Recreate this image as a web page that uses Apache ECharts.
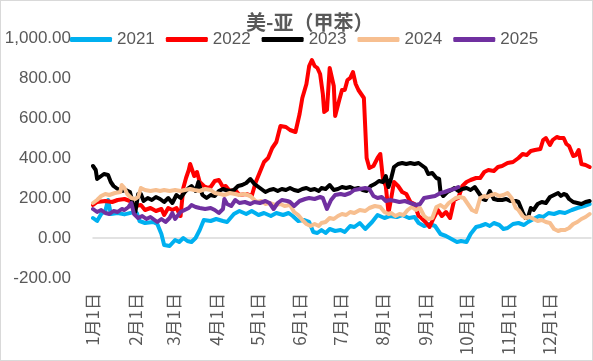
<!DOCTYPE html>
<html>
<head>
<meta charset="utf-8">
<script src="https://cdn.jsdelivr.net/npm/echarts@6/dist/echarts.min.js"></script>
<style>
html,body{margin:0;padding:0;background:#fff;}
#wrap{position:relative;width:593px;height:361px;}
#chart{position:absolute;left:0;top:0;width:593px;height:361px;}
#frame{position:absolute;left:0;top:0;width:593px;height:361px;box-sizing:border-box;border:1px solid #d9d9d9;pointer-events:none;}
</style>
</head>
<body>
<div id="wrap"><div id="chart"></div><div id="frame"></div></div>
<script>
// x = day of year (0 = 1月1日, 364 = 12月31日)
const monthStarts = [0,31,59,90,120,151,181,212,243,273,304,334];
const monthLabels = ['1月1日','2月1日','3月1日','4月1日','5月1日','6月1日','7月1日','8月1日','9月1日','10月1日','11月1日','12月1日'];
const seriesNames = ['2021','2022','2023','2024','2025'];

const s2021 = [[0,100],[3,85],[6,120],[9,135],[11,190],[13,120],[18,125],[23,118],[29,128],[32,125],[34,85],[38,75],[44,80],[47,70],[50,20],[52,-35],[56,-40],[60,-10],[63,-20],[66,0],[69,-15],[72,-20],[75,0],[78,40],[81,90],[86,85],[90,95],[95,85],[98,80],[103,120],[107,135],[112,120],[116,135],[121,115],[125,125],[130,110],[134,125],[139,115],[143,125],[146,110],[150,85],[154,90],[158,80],[161,30],[164,25],[167,40],[170,25],[173,45],[177,35],[181,40],[184,30],[188,60],[191,55],[195,75],[199,45],[204,80],[208,115],[213,100],[217,110],[222,105],[226,115],[231,100],[235,105],[238,75],[242,60],[246,70],[250,60],[254,20],[258,10],[262,-5],[266,-20],[269,-15],[273,-20],[276,20],[280,55],[283,60],[287,70],[290,60],[293,75],[297,65],[300,45],[303,50],[307,70],[311,75],[315,65],[318,80],[322,95],[326,110],[329,105],[333,125],[337,120],[341,130],[345,125],[350,140],[354,150],[359,160],[363,170]];

const s2022 = [[0,165],[3,180],[9,185],[14,180],[18,190],[23,195],[27,185],[31,160],[35,165],[38,140],[42,150],[46,135],[50,145],[52,115],[55,150],[58,140],[61,150],[64,110],[66,250],[68,300],[70,340],[71,370],[74,310],[76,330],[78,280],[81,260],[84,250],[86,255],[89,285],[92,290],[95,255],[97,260],[100,235],[104,240],[107,215],[112,220],[116,210],[119,280],[122,330],[125,380],[128,400],[131,450],[134,480],[137,560],[141,555],[144,540],[148,530],[151,620],[153,700],[156,770],[158,860],[160,890],[162,860],[164,850],[166,820],[168,720],[169,630],[171,640],[173,850],[176,760],[177,610],[180,690],[182,740],[184,740],[186,790],[188,800],[190,830],[192,770],[194,740],[196,720],[198,700],[200,400],[202,350],[205,360],[208,400],[210,420],[212,290],[214,260],[216,125],[218,200],[220,280],[223,260],[226,230],[229,220],[232,180],[235,170],[238,110],[240,100],[243,80],[246,55],[249,100],[252,140],[255,110],[258,130],[261,100],[264,190],[267,200],[270,260],[273,280],[276,290],[280,300],[283,300],[286,330],[289,340],[293,335],[296,355],[299,360],[303,375],[307,380],[311,400],[314,420],[317,415],[320,435],[323,440],[327,445],[329,490],[331,500],[334,465],[336,490],[339,505],[341,500],[344,500],[346,470],[348,460],[351,410],[353,415],[355,440],[357,370],[360,365],[363,355]];

const s2023 = [[0,360],[2,340],[3,295],[6,310],[8,320],[11,315],[13,280],[15,260],[18,245],[21,235],[24,240],[27,230],[29,175],[31,130],[33,220],[35,220],[37,185],[40,200],[43,190],[46,205],[49,195],[52,180],[55,200],[58,175],[61,215],[64,200],[67,230],[70,250],[72,260],[75,235],[77,280],[80,215],[83,200],[86,215],[89,210],[92,235],[95,245],[97,240],[100,235],[103,240],[106,260],[109,265],[112,275],[115,295],[118,270],[120,260],[123,245],[126,230],[129,240],[132,245],[135,235],[138,245],[141,240],[144,250],[147,240],[150,235],[153,245],[156,250],[159,240],[162,245],[165,235],[167,250],[170,245],[173,265],[176,240],[179,245],[182,255],[185,250],[188,255],[191,245],[194,250],[197,240],[200,235],[203,260],[206,270],[209,285],[212,280],[214,310],[216,255],[218,300],[220,355],[223,370],[226,375],[229,370],[232,375],[235,370],[238,375],[240,365],[243,350],[245,320],[248,325],[251,300],[253,295],[254,230],[256,210],[259,230],[262,240],[264,250],[267,235],[270,245],[273,250],[276,240],[279,255],[282,225],[285,195],[287,190],[290,235],[293,195],[296,190],[299,190],[302,195],[305,185],[309,185],[311,180],[314,130],[316,100],[318,105],[320,150],[322,140],[325,170],[328,180],[331,175],[334,205],[337,215],[340,225],[342,210],[344,220],[346,215],[348,195],[351,180],[354,175],[357,170],[360,180],[363,185]];

const s2024 = [[0,175],[3,190],[6,210],[9,220],[12,215],[16,225],[20,230],[21,265],[23,250],[25,220],[28,200],[31,195],[33,205],[35,250],[38,240],[42,235],[46,240],[49,235],[52,240],[56,235],[60,240],[64,235],[67,240],[71,245],[74,240],[78,235],[82,245],[86,240],[89,225],[93,220],[96,215],[100,225],[104,220],[107,215],[111,220],[115,210],[118,190],[120,180],[123,185],[126,170],[129,175],[133,165],[137,170],[140,160],[144,165],[147,130],[150,115],[153,90],[156,70],[159,60],[162,70],[165,60],[167,75],[170,80],[173,100],[176,95],[179,110],[182,120],[185,115],[188,130],[191,125],[195,140],[199,135],[202,150],[206,160],[210,155],[213,130],[216,120],[218,125],[221,110],[224,120],[227,115],[230,140],[233,155],[236,140],[239,150],[242,110],[245,95],[248,100],[251,155],[254,165],[257,150],[260,175],[263,190],[265,200],[268,205],[271,200],[274,170],[277,140],[280,130],[283,200],[286,210],[288,205],[291,215],[294,220],[297,210],[300,215],[303,225],[306,200],[309,150],[311,140],[314,110],[316,100],[319,105],[322,95],[325,85],[328,90],[331,80],[334,75],[337,45],[340,35],[342,40],[345,40],[348,50],[351,70],[354,80],[357,95],[360,105],[363,120]];

const s2025 = [[0,145],[3,130],[6,140],[9,125],[12,120],[15,135],[18,130],[21,145],[23,140],[26,155],[28,175],[30,120],[33,100],[36,110],[39,95],[42,105],[45,90],[47,80],[50,95],[53,80],[56,100],[58,125],[60,95],[64,130],[67,140],[70,150],[72,165],[75,155],[78,150],[82,145],[86,150],[89,140],[92,125],[95,145],[96,195],[98,170],[101,160],[104,190],[107,175],[111,180],[115,170],[118,180],[122,175],[126,185],[129,175],[132,145],[135,175],[138,190],[142,185],[144,180],[147,160],[151,185],[155,195],[158,200],[162,195],[166,205],[168,200],[171,145],[174,190],[177,215],[181,220],[184,215],[188,225],[191,240],[195,245],[199,250],[202,245],[205,210],[208,200],[211,205],[214,185],[217,190],[221,185],[224,180],[228,185],[232,175],[236,165],[239,170],[242,200],[246,205],[250,210],[254,225],[257,230],[261,240],[264,245],[267,255]];

const seriesData = [s2021, s2022, s2023, s2024, s2025];
const colors = ['#00B0F0','#FF0000','#000000','#F7BF90','#7030A0'];

const chart = echarts.init(document.getElementById('chart'), null, {renderer:'canvas'});
const fmt = v => v.toLocaleString('en-US',{minimumFractionDigits:2, maximumFractionDigits:2});
const option = {
  animation: false,
  backgroundColor: '#fff',
  title: {
    text: '美-亚（甲苯）', left: 246, top: 12, padding: 0,
    textStyle: {fontFamily: 'Noto Sans CJK SC', fontSize: 20, fontWeight: 'bold', color: '#595959'}
  },
  legend: {
    left: 70, top: 31, padding: 0, itemGap: 11, itemWidth: 42, itemHeight: 5,
    icon: 'roundRect',
    textStyle: {fontFamily: 'Liberation Sans', fontSize: 17, color: '#595959'},
    data: seriesNames
  },
  grid: {left: 93, right: 2, top: 38, bottom: 83, containLabel: false},
  xAxis: [{
    type: 'value', min: 0, max: 364,
    axisLine: {show: false, onZero: false}, axisTick: {show: false}, splitLine: {show: false},
    axisLabel: {
      customValues: monthStarts, rotate: 90, margin: 15,
      fontFamily: 'Noto Sans CJK SC', fontSize: 17, color: '#595959',
      formatter: v => monthLabels[monthStarts.indexOf(v)]
    }
  },{
    type: 'value', min: 0, max: 364, position: 'bottom',
    axisLine: {show: true, onZero: true, lineStyle: {color: '#d9d9d9', width: 1.5}},
    axisTick: {show: false}, axisLabel: {show: false}, splitLine: {show: false}
  }],
  yAxis: {
    type: 'value', min: -200, max: 1000, interval: 200,
    axisLine: {show: false}, axisTick: {show: false}, splitLine: {show: false},
    axisLabel: {margin: 22, fontFamily: 'Liberation Sans', fontSize: 17, color: '#595959', formatter: fmt}
  },
  series: seriesNames.map((n, i) => ({
    name: n, type: 'line', xAxisIndex: 0, data: seriesData[i], showSymbol: false, symbol: 'none',
    color: colors[i],
    lineStyle: {width: 4, color: colors[i], cap: 'round', join: 'round'},
    itemStyle: {color: colors[i]}
  }))
};
chart.setOption(option);
</script>
</body>
</html>
